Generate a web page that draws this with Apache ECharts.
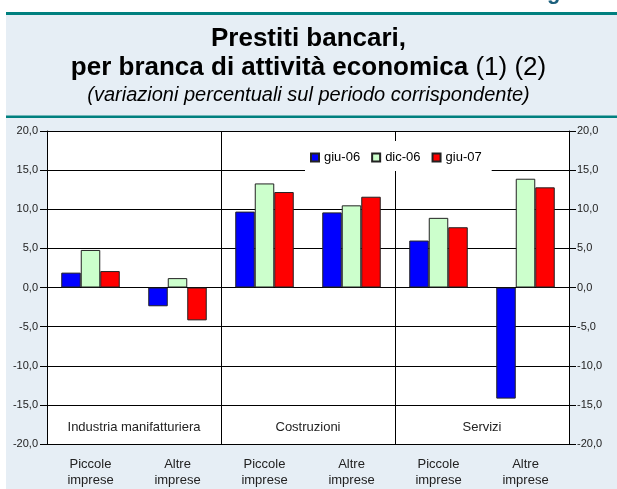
<!DOCTYPE html>
<html>
<head>
<meta charset="utf-8">
<script src="https://cdn.jsdelivr.net/npm/echarts@6/dist/echarts.min.js"></script>
<style>
  html, body { margin: 0; padding: 0; background: #fff; }
  #chart { width: 617px; height: 489px; }
</style>
</head>
<body>
<div id="chart"></div>
<script>
// Chart data
const categories = ['Piccole\nimprese', 'Altre\nimprese', 'Piccole\nimprese', 'Altre\nimprese', 'Piccole\nimprese', 'Altre\nimprese']
const groups = ['Industria manifatturiera', 'Costruzioni', 'Servizi']
const seriesNames = ['giu-06', 'dic-06', 'giu-07']
const giu06 = [1.9, -2.4, 9.7, 9.6, 6.0, -14.2]
const dic06 = [4.8, 1.2, 13.3, 10.5, 8.9, 13.9]
const giu07 = [2.1, -4.2, 12.2, 11.6, 7.7, 12.8]
const yMin = -20
const yMax = 20
const yStep = 5

const colors = {
  bg: '#e6eef5',
  teal: '#00807f',
  blue: '#0000ff',
  green: '#ccffcc',
  red: '#ff0000',
  border: '#222222',
  text: '#000000'
}

const font = '"Liberation Sans", Arial, sans-serif'

const fmt = (v) => v.toFixed(1).replace('.', ',')

const chart = echarts.init(document.getElementById('chart'), null, { renderer: 'canvas' })

const valueAxis = (position, margin, showSplit) => ({
  type: 'value',
  position: position,
  min: yMin,
  max: yMax,
  interval: yStep,
  axisLine: { show: true, lineStyle: { color: '#000', width: 1 } },
  axisTick: { show: true, length: 7, lineStyle: { color: '#000' } },
  axisLabel: { color: '#222', fontSize: 11, fontFamily: font, margin: margin, formatter: fmt },
  splitLine: { show: showSplit, lineStyle: { color: '#000', width: 1 } }
})

const barSeries = (name, data, color) => ({
  name: name,
  type: 'bar',
  xAxisIndex: 0,
  yAxisIndex: 0,
  data: data,
  barWidth: 19.5,
  barGap: '0%',
  itemStyle: { color: color, borderColor: colors.border, borderWidth: 1 }
})

const option = {
  backgroundColor: '#fff',
  animation: false,
  textStyle: { fontFamily: font },
  graphic: [
    { type: 'rect', z: -10, silent: true, shape: { x: 6, y: 13, width: 611, height: 476 }, style: { fill: colors.bg } },
    { type: 'rect', z: -9, silent: true, shape: { x: 6, y: 12, width: 611, height: 3 }, style: { fill: colors.teal } },
    { type: 'rect', z: -9, silent: true, shape: { x: 6, y: 115.5, width: 611, height: 2.5 }, style: { fill: colors.teal } },
    { type: 'text', z: -9, silent: true, x: 547, y: -18, style: { text: 'g', fontSize: 22, fontWeight: 'bold', fontFamily: font, fill: '#1b5f7c' } }
  ],
  title: {
    left: 'center',
    top: 19,
    itemGap: 3,
    text: '{b|Prestiti bancari,}\n{b|per branca di attività economica}{n| (1) (2)}',
    textStyle: {
      color: colors.text,
      lineHeight: 29,
      rich: {
        b: { fontSize: 26, fontWeight: 'bold', lineHeight: 29, color: colors.text, fontFamily: font },
        n: { fontSize: 26, fontWeight: 'normal', lineHeight: 29, color: colors.text, fontFamily: font }
      }
    },
    subtext: '(variazioni percentuali sul periodo corrispondente)',
    subtextStyle: { color: colors.text, fontSize: 20, fontStyle: 'italic', lineHeight: 21, fontFamily: font }
  },
  legend: {
    data: seriesNames,
    left: 305,
    top: 141,
    orient: 'horizontal',
    icon: 'rect',
    itemWidth: 8,
    itemHeight: 8,
    itemGap: 11,
    backgroundColor: '#fff',
    padding: [10, 10, 7, 5],
    textStyle: { color: colors.text, fontSize: 13, fontFamily: font }
  },
  grid: {
    left: 47,
    right: 48,
    top: 131,
    bottom: 45,
    show: true,
    backgroundColor: '#fff',
    borderWidth: 0
  },
  xAxis: [
    {
      type: 'category',
      data: categories,
      position: 'bottom',
      axisLine: { show: false, onZero: false },
      axisTick: { show: false },
      axisLabel: { color: '#222', fontSize: 13, lineHeight: 16, margin: 12, fontFamily: font },
      splitLine: { show: false }
    },
    {
      type: 'category',
      data: groups,
      position: 'bottom',
      axisLine: { show: false, onZero: false },
      axisTick: { show: false },
      axisLabel: { inside: true, color: '#222', fontSize: 13, margin: 10, fontFamily: font },
      splitLine: { show: true, lineStyle: { color: '#000', width: 1 } }
    }
  ],
  yAxis: [
    valueAxis('left', 9, true),
    valueAxis('right', 8, false)
  ],
  series: [
    barSeries(seriesNames[0], giu06, colors.blue),
    barSeries(seriesNames[1], dic06, colors.green),
    barSeries(seriesNames[2], giu07, colors.red)
  ]
}

chart.setOption(option)
</script>
</body>
</html>
